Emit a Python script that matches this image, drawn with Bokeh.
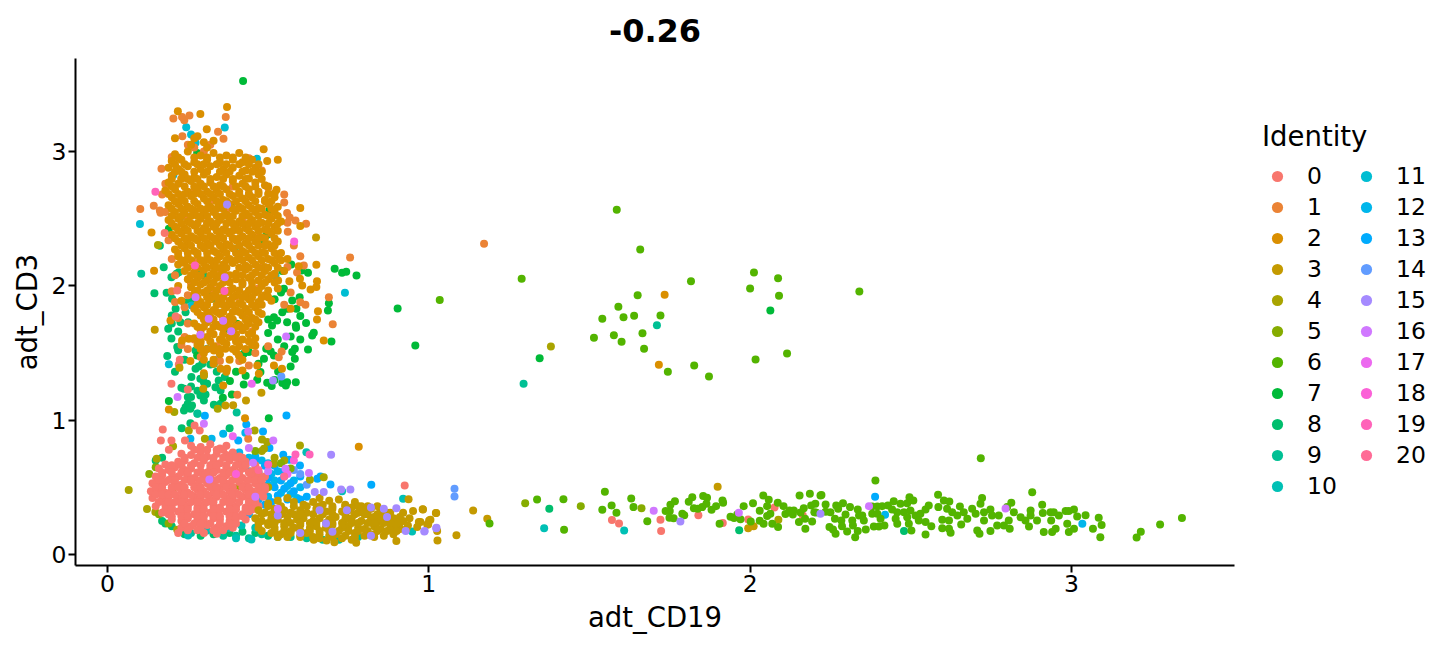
import math
from bokeh.plotting import figure
from bokeh.models import Legend, LegendItem, Range1d, FixedTicker
from bokeh.embed import file_html
from bokeh.resources import INLINE

TITLE = "-0.26"
X_LABEL = "adt_CD19"
Y_LABEL = "adt_CD3"
X_TICKS = [0, 1, 2, 3]
Y_TICKS = [0, 1, 2, 3]
IDENTITIES = [str(i) for i in range(21)]

s0 = [(1.57,.256),(1.592,.231),(1.721,.258),(1.723,.174),(1.839,.293),(1.915,.234),(1.994,.261),(2.076,.35),(2.164,.291),
(.172,.931),(.166,.849),(.199,.849),(.191,.78),(.271,.961),(.287,.924),(.241,.849),(.925,.514),(.199,1.271),(.25,1.229),(.225,1.45),(.222,1.415),(.217,1.966),(.212,1.772),(.178,2.393),
(.26,.81),(.29,.8),(.32,.82),(.35,.79),(.37,.81),
(.23,.75),(.26,.74),(.29,.76),(.31,.73),(.34,.75),(.37,.74),(.39,.76),(.41,.73),
(.22,.69),(.24,.7),(.27,.68),(.3,.7),(.33,.69),(.35,.68),(.38,.7),(.41,.68),(.43,.69),(.18,.67),
(.16,.64),(.19,.63),(.21,.65),(.24,.63),(.26,.64),(.29,.62),(.32,.64),(.34,.63),(.37,.65),(.39,.63),(.42,.64),(.45,.62),
(.15,.58),(.17,.59),(.2,.57),(.22,.58),(.25,.59),(.27,.57),(.3,.59),(.32,.58),(.35,.57),(.37,.59),(.4,.58),(.42,.57),(.45,.59),(.47,.57),(.49,.58),
(.14,.53),(.16,.52),(.18,.54),(.21,.53),(.23,.52),(.26,.54),(.28,.52),(.31,.53),(.33,.54),(.36,.52),(.38,.53),(.41,.54),(.43,.52),(.46,.53),(.48,.52),
(.135,.47),(.16,.48),(.18,.46),(.2,.48),(.23,.47),(.25,.46),(.28,.48),(.3,.47),(.33,.46),(.35,.48),(.38,.47),(.4,.46),(.43,.48),(.45,.47),(.47,.46),(.49,.48),
(.14,.42),(.17,.41),(.19,.43),(.22,.42),(.24,.41),(.27,.43),(.29,.42),(.32,.41),(.34,.43),(.37,.42),(.39,.41),(.42,.43),(.44,.42),(.46,.41),(.485,.43),
(.15,.36),(.18,.37),(.2,.35),(.23,.37),(.25,.36),(.28,.35),(.3,.37),(.33,.36),(.35,.35),(.38,.37),(.4,.36),(.43,.35),(.45,.37),(.47,.36),
(.17,.31),(.19,.3),(.22,.32),(.24,.31),(.27,.3),(.29,.32),(.32,.31),(.34,.3),(.37,.32),(.39,.31),(.42,.3),(.44,.32),
(.2,.26),(.23,.25),(.25,.27),(.28,.26),(.3,.25),(.33,.27),(.35,.26),(.38,.25),(.4,.27),(.43,.26),
(.23,.2),(.26,.21),(.29,.2),(.31,.22),(.34,.2),(.37,.21),(.39,.2),(.22,.16),(.3,.16),(.34,.155)]
s0_rows = {.78:[.27,.31,.34,.36],.72:[.24,.28,.3,.33,.36,.38,.4,.42],.665:[.2,.23,.26,.29,.32,.34,.37,.4,.43,.46],
.61:[.17,.2,.23,.25,.28,.31,.33,.36,.38,.41,.44,.47],.555:[.16,.19,.21,.24,.26,.29,.31,.34,.36,.39,.41,.44,.46,.48],
.5:[.15,.17,.2,.22,.24,.27,.29,.32,.34,.37,.39,.42,.44,.47,.49],.445:[.15,.17,.19,.21,.24,.26,.29,.31,.34,.36,.39,.41,.44,.46,.48],
.39:[.16,.19,.21,.23,.26,.28,.31,.33,.36,.38,.41,.44,.46],.335:[.18,.2,.23,.25,.28,.3,.33,.35,.38,.4,.43,.45],
.285:[.2,.23,.25,.28,.3,.33,.35,.38,.4,.42],.23:[.24,.27,.29,.32,.35,.38,.4],.18:[.25,.28,.33,.36]}
s1 = [(1.172,2.313),(.205,3.247),(.232,3.257),(.239,3.234),(.255,3.269),(.368,3.257),(.344,3.147),(.361,3.095),(.233,3.115),(.168,2.872),(.102,2.572),(.144,2.597),(.163,2.562),(.165,2.544),
(.559,2.542),(.567,2.51),(.585,2.487),(.618,2.463),(.561,2.403),(.755,2.211),(.701,1.715),(.689,1.916),(.611,2.152),(.6,1.879),(.616,1.859),(.542,1.512),(.533,1.469),(.404,1.189),(.44,1.407),(.438,.862),
(.27,3.03),(.25,3.05),(.3,3.0),(.32,3.05),(.2,2.96),(.44,2.95),(.48,2.86),(.18,2.76),(.5,2.73),(.17,2.68),(.55,2.68),(.55,2.62),(.18,2.55),(.56,2.47),(.19,2.34),(.2,2.2),(.58,2.3),(.6,2.22),(.56,2.14),(.59,2.1),(.21,2.08),(.2,1.96),(.21,1.88),(.57,1.95),(.55,1.86),(.24,1.84),(.22,1.76),
(.23,2.8),(.27,2.7),(.33,2.64),(.39,2.74),(.44,2.68),(.24,2.52),(.31,2.47),(.37,2.55),(.42,2.5),(.26,2.36),(.32,2.3),(.39,2.35),(.47,2.37),(.27,2.18),(.35,2.13),(.41,2.2),(.48,2.14),(.26,2.02),(.33,1.97),(.4,1.92),(.47,1.98),(.25,1.93),(.31,1.78),(.38,1.72),(.44,1.78),(.25,1.72),(.27,1.6),(.34,1.55),(.4,1.6),(.45,1.66),(.24,1.62),(.23,1.56),(.29,1.47),(.35,1.44),(.46,1.5),(.41,1.44),(.5,1.55),(.25,1.53)]
s2 = [(.372,3.331),(.219,3.301),(.289,3.279),(.309,3.167),(.21,3.1),(.28,3.115),(.486,3.018),(.53,2.939),(.497,2.929),(.6,2.579),(.137,2.398),(.526,2.716),(.6,2.445),(1.734,1.934),(1.716,1.412),(.191,1.08),(.782,.802),(.428,1.015),
(.145,2.112),(.673,1.594),(.655,1.812),(.652,1.75),(.65,2.157),(.652,2.035),(.65,1.991),(.632,1.973),(.595,2.147),(.599,2.053),(.606,2.003),(.566,2.035),(.531,2.04),(.57,1.829),(.518,1.407),(.543,1.383),(.471,1.345),(.46,1.556),(.36,1.259),(.352,1.383),(.372,1.383),(.409,1.482),(.466,1.407),(.258,1.44),(.289,1.569),(.232,1.594),(.253,1.606),(.331,1.519),(.367,1.531),(.196,1.742),
(.27,3.1),(.26,3.05),(.3,3.07),(.33,3.08),(.31,3.03),
(.21,2.98),(.25,3.0),(.29,2.97),(.33,2.99),(.37,2.97),(.41,2.99),
(.2,2.93),(.23,2.94),(.27,2.92),(.31,2.94),(.35,2.92),(.39,2.94),(.42,2.92),(.45,2.94),
(.19,2.88),(.22,2.87),(.25,2.89),(.29,2.87),(.32,2.89),(.36,2.87),(.39,2.88),(.43,2.86),(.46,2.88),
(.2,2.82),(.24,2.83),(.27,2.81),(.3,2.83),(.34,2.81),(.37,2.83),(.41,2.82),(.44,2.8),(.47,2.83),
(.19,2.77),(.22,2.76),(.26,2.78),(.29,2.76),(.32,2.77),(.35,2.75),(.39,2.78),(.42,2.76),(.46,2.77),(.49,2.75),
(.18,2.71),(.21,2.72),(.25,2.7),(.28,2.72),(.31,2.7),(.34,2.71),(.37,2.72),(.41,2.7),(.44,2.72),(.47,2.7),(.52,2.69),
(.2,2.66),(.23,2.65),(.26,2.67),(.3,2.65),(.33,2.66),(.36,2.64),(.39,2.67),(.42,2.65),(.45,2.66),(.49,2.64),(.52,2.66),
(.19,2.6),(.22,2.61),(.25,2.59),(.28,2.61),(.32,2.59),(.35,2.6),(.38,2.61),(.41,2.59),(.44,2.6),(.47,2.58),(.5,2.61),(.53,2.59),
(.21,2.55),(.24,2.54),(.27,2.56),(.3,2.54),(.33,2.55),(.37,2.53),(.4,2.56),(.43,2.54),(.46,2.55),(.49,2.53),(.52,2.55),
(.19,2.49),(.22,2.5),(.25,2.48),(.29,2.5),(.32,2.48),(.35,2.49),(.38,2.5),(.41,2.48),(.45,2.49),(.48,2.47),(.51,2.5),(.54,2.48),
(.21,2.44),(.24,2.43),(.27,2.45),(.3,2.43),(.33,2.44),(.36,2.42),(.4,2.45),(.43,2.43),(.46,2.44),(.49,2.42),(.52,2.44),
(.2,2.38),(.23,2.39),(.26,2.37),(.29,2.39),(.32,2.37),(.35,2.38),(.38,2.39),(.42,2.37),(.45,2.38),(.48,2.36),(.51,2.39),
(.22,2.33),(.25,2.32),(.28,2.34),(.31,2.32),(.34,2.33),(.37,2.31),(.4,2.34),(.43,2.32),(.46,2.33),(.5,2.31),(.53,2.33),
(.21,2.27),(.24,2.28),(.27,2.26),(.3,2.28),(.33,2.26),(.36,2.27),(.39,2.28),(.42,2.26),(.45,2.27),(.48,2.25),(.51,2.28),
(.22,2.22),(.25,2.21),(.28,2.23),(.31,2.21),(.35,2.22),(.38,2.2),(.41,2.23),(.44,2.21),(.47,2.22),(.5,2.2),(.53,2.22),(.56,2.2),
(.22,2.16),(.24,2.17),(.27,2.15),(.3,2.17),(.33,2.15),(.36,2.16),(.39,2.17),(.43,2.15),(.46,2.16),(.49,2.14),(.52,2.17),
(.24,2.11),(.27,2.1),(.3,2.12),(.33,2.1),(.36,2.11),(.4,2.09),(.43,2.12),(.46,2.1),(.49,2.11),(.52,2.09),(.55,2.11),
(.25,2.05),(.28,2.06),(.31,2.04),(.34,2.06),(.37,2.04),(.4,2.05),(.44,2.06),(.47,2.04),(.5,2.05),
(.22,2.0),(.26,1.99),(.29,2.01),(.32,1.99),(.35,2.0),(.39,1.98),(.42,2.01),(.45,1.99),(.48,2.0),(.53,1.98),
(.27,1.94),(.3,1.95),(.33,1.93),(.37,1.95),(.4,1.93),(.43,1.94),(.46,1.95),(.49,1.93),
(.23,1.89),(.29,1.88),(.32,1.9),(.35,1.88),(.38,1.89),(.41,1.87),(.44,1.9),(.47,1.88),(.51,1.89),
(.27,1.83),(.3,1.84),(.33,1.82),(.37,1.84),(.4,1.82),(.43,1.83),(.46,1.84),
(.29,1.78),(.32,1.77),(.35,1.79),(.38,1.77),(.42,1.78),(.45,1.76),(.48,1.79),
(.27,1.72),(.31,1.73),(.34,1.71),(.37,1.73),(.41,1.71),(.44,1.72),(.47,1.73),
(.29,1.67),(.32,1.66),(.36,1.68),(.39,1.66),(.42,1.67),(.45,1.65),
(.27,1.61),(.31,1.62),(.35,1.6),(.38,1.62),(.42,1.6),(.46,1.61),
(.28,1.56),(.33,1.55),(.37,1.57),(.41,1.55),(.45,1.56),(.3,1.5),(.35,1.49),(.4,1.51),(.33,1.42),(.37,1.36),(.42,1.37),(.3,1.35)]
s2_rows = {2.955:[.22,.27,.31,.35,.39,.43],2.905:[.21,.24,.28,.3,.34,.37,.41,.44,.47],2.85:[.21,.23,.27,.31,.35,.38,.42,.45,.48],
2.795:[.2,.23,.25,.28,.32,.36,.39,.43,.48],2.74:[.2,.24,.27,.3,.33,.36,.4,.43,.46,.5],2.685:[.19,.22,.24,.27,.29,.32,.35,.38,.41,.44,.47,.5],
2.63:[.21,.24,.27,.31,.34,.37,.4,.43,.46,.49,.51],2.575:[.2,.23,.26,.29,.31,.34,.36,.39,.42,.45,.48,.51],2.52:[.2,.23,.26,.28,.31,.34,.36,.39,.42,.44,.47,.5,.53],
2.465:[.2,.23,.26,.28,.31,.34,.37,.39,.42,.44,.47,.5,.53],2.41:[.22,.25,.28,.31,.34,.37,.39,.41,.44,.47,.5,.53],2.355:[.21,.24,.27,.3,.33,.36,.39,.41,.44,.47,.49,.52],
2.3:[.23,.26,.29,.32,.35,.38,.41,.44,.47,.49,.52],2.245:[.22,.25,.28,.31,.34,.37,.4,.43,.46,.49,.52,.54],2.19:[.23,.26,.29,.32,.34,.37,.4,.42,.45,.48,.51,.54],
2.135:[.25,.28,.31,.34,.37,.41,.44,.47,.5,.53],2.08:[.26,.29,.32,.35,.38,.42,.45,.48,.51],2.025:[.27,.3,.33,.36,.38,.42,.45,.49,.52],
1.965:[.28,.31,.34,.36,.38,.41,.44,.47,.5],1.915:[.28,.31,.34,.36,.39,.42,.45,.48,.5],1.86:[.28,.31,.34,.36,.39,.42,.45,.48],
1.805:[.28,.31,.34,.36,.39,.41,.44,.47],1.75:[.3,.33,.36,.39,.43,.46],1.695:[.28,.3,.33,.35,.38,.4,.43,.46],1.64:[.29,.33,.36,.4,.44],
1.585:[.29,.32,.36,.4,.44],1.53:[.29,.31,.35,.39,.43],1.45:[.3,.33,.38,.42]}
s3 = [(.982,.335),(1.022,.308),(1.138,.328),(1.182,.266),(1.001,.253),(.995,.224),(.974,.241),(1.026,.174),(1.027,.105),(1.086,.144),(1.899,.504),(1.994,.196),(2.011,.211),
(.147,1.673),(.479,1.204),(.298,1.234),(.3,1.333),(.224,1.39),(.391,1.112),(.367,1.11),(.431,1.147),(.649,2.361),
(.937,.412),(.981,.336),(1.023,.308),(.951,.323),(1.005,.259),(.998,.224),(.969,.241),(.964,.204),(.935,.216),(.899,.1),(.774,.087),(.706,.092),(.682,.105),(.642,.11),
(.5,.38),(.53,.4),(.56,.42),(.58,.39),(.61,.37),(.64,.39),(.66,.42),(.69,.4),(.72,.41),(.74,.37),(.77,.39),(.79,.36),(.82,.34),(.85,.33),(.88,.31),
(.47,.33),(.49,.31),(.52,.34),(.55,.33),(.57,.31),(.6,.33),(.62,.31),(.65,.34),(.68,.32),(.7,.34),(.73,.32),(.75,.33),(.78,.31),(.81,.3),(.83,.28),(.86,.29),(.89,.27),(.91,.28),
(.46,.27),(.48,.25),(.51,.27),(.53,.26),(.56,.28),(.59,.26),(.61,.27),(.64,.25),(.66,.27),(.69,.26),(.71,.28),(.74,.26),(.76,.27),(.79,.25),(.82,.26),(.84,.24),(.87,.25),(.9,.24),(.92,.25),
(.47,.2),(.5,.22),(.52,.2),(.55,.21),(.58,.2),(.6,.22),(.63,.2),(.65,.21),(.68,.2),(.7,.22),(.73,.2),(.75,.21),(.78,.2),(.8,.19),(.83,.21),(.85,.19),(.88,.2),(.91,.19),
(.51,.16),(.54,.15),(.57,.16),(.6,.14),(.62,.16),(.66,.15),(.69,.14),(.71,.15),(.74,.14),(.77,.16),(.8,.14),(.83,.15),(.86,.14),(.89,.15),(.56,.13),(.73,.12),(.76,.11),(.66,.12),
(.92,.31),(.94,.27),(.9,.22),(.93,.19),(.87,.31),(.85,.27),(.8,.32),(.76,.35),(.67,.37)]
s3_rows = {.36:[.5,.54,.58,.62,.66,.7,.74,.78,.81,.84],.3:[.48,.51,.54,.58,.6,.64,.67,.7,.74,.77,.8,.84,.87],
.235:[.47,.5,.52,.55,.57,.6,.63,.65,.68,.7,.73,.76,.78,.81,.83,.86,.88,.91],.175:[.48,.52,.55,.57,.6,.63,.66,.69,.72,.75,.78,.81,.84,.87,.9],.13:[.53,.6,.64,.7,.77,.83]}
s4 = [(1.38,1.549),(.157,2.304),(2.088,.258),(.208,1.06),(.343,1.085),(.066,.48),(.123,.338),(.153,.713),(.458,.924),(.481,.857),(.599,.812),(.497,.837),(.487,.787),(.409,.507),(.63,.556),(.673,.576),(.518,.676),(.204,.805),(.253,.924),(.303,.862),(.149,.316),(.217,.184),(.206,.452),(.48,.77),(.52,.72),(.55,.7),(.5,.5)]
s5 = [(1.3,.382),(1.473,.36),(1.662,.345),(.46,.77),(.54,.68),(.57,.64),(.15,.65),(.13,.6),(.16,.3),(.19,.23)]
s6 = [(1.585,2.567),(1.658,2.271),(1.289,2.053),(1.034,1.894),(1.816,2.035),(1.65,1.931),(1.59,1.844),(1.54,1.755),(1.606,1.767),(1.639,1.777),(1.721,1.78),(1.665,1.648),(1.576,1.633),(1.514,1.613),(1.6,1.584),(1.67,1.531),(1.744,1.36),(1.826,1.407),(1.872,1.325),(2.017,1.452),(2.115,1.497),(2.012,2.1),(2.087,2.057),(2.0,1.98),(2.09,1.926),(2.34,1.958),(2.718,.717),
(1.189,.231),(1.337,.41),(1.419,.412),(1.421,.184),(1.548,.467),(1.54,.333),(1.569,.365),(1.584,.31),(1.63,.417),(1.637,.353),(1.68,.248),(1.737,.323),(1.75,.323),(1.752,.37),(1.766,.397),(1.749,.273),(1.762,.27),(1.789,.303),(1.795,.293),(1.809,.392),(1.82,.427),(1.825,.345),(1.837,.34),(1.851,.353),(1.864,.378),(1.854,.435),(1.866,.422),(1.88,.333),(1.894,.36),(1.914,.402),(1.916,.385),(1.905,.229),(1.939,.281),(1.95,.271),(1.96,.298),(1.97,.263),(1.98,.36),(2.002,.246),(2.009,.382),(2.03,.325),(2.03,.251),(2.042,.229),(2.041,.44),(2.058,.407),(2.053,.36),(2.053,.286),(2.063,.303),(2.069,.229),(2.086,.385),(2.087,.204),(2.104,.36),(2.11,.301),(2.123,.328),(2.133,.298),(2.136,.328),(2.154,.44),(2.186,.452),(2.152,.241),(2.172,.191),(2.171,.266),(2.193,.246),(2.157,.313),(2.167,.345),(2.19,.365),(2.203,.378),(2.205,.313),(2.219,.44),
(2.39,.551),(2.222,.442),(2.2,.315),(2.235,.373),(2.235,.318),(2.25,.315),(2.268,.365),(2.289,.382),(2.274,.34),(2.311,.353),(2.297,.298),(2.264,.266),(2.284,.253),(2.286,.211),(2.247,.204),(2.258,.186),(2.266,.154),(2.302,.172),(2.32,.216),(2.335,.335),(2.339,.291),(2.318,.253),(2.335,.174),(2.327,.129),(2.36,.186),(2.349,.291),(2.354,.253),(2.38,.358),(2.396,.358),(2.38,.303),(2.396,.303),(2.411,.36),(2.385,.209),(2.401,.209),(2.418,.216),(2.406,.266),(2.447,.397),(2.429,.365),(2.442,.335),(2.468,.378),(2.489,.382),(2.496,.427),(2.508,.402),(2.458,.315),(2.479,.315),(2.499,.328),(2.453,.266),(2.458,.229),(2.489,.278),(2.494,.229),(2.502,.179),(2.515,.291),(2.53,.303),(2.546,.335),(2.556,.365),(2.525,.253),(2.546,.241),(2.564,.211),(2.546,.149),(2.585,.445),(2.586,.353),(2.603,.402),(2.62,.395),(2.613,.34),(2.629,.315),(2.653,.358),(2.645,.291),(2.598,.258),(2.619,.253),(2.598,.196),(2.619,.191),(2.624,.162),(2.665,.315),(2.657,.224),(2.691,.34),(2.676,.266),(2.702,.303),(2.707,.179),(2.714,.154),(2.717,.378),(2.722,.42),(2.728,.315),(2.748,.335),(2.753,.291),(2.728,.253),(2.774,.291),(2.748,.174),(2.769,.216),(2.79,.216),(2.808,.191),(2.813,.385),(2.8,.353),(2.805,.253),(2.821,.315),(2.842,.278),(2.857,.253),(2.873,.328),(2.878,.464),(2.873,.291),(2.893,.253),(2.868,.209),(2.909,.37),(2.911,.308),(2.914,.167),(2.935,.315),(2.945,.315),(2.937,.253),(2.94,.167),(2.951,.191),(2.961,.291),(2.982,.323),(2.992,.323),(2.987,.229),(2.992,.167),(3.008,.335),(3.008,.191),(3.018,.283),(3.044,.293),(3.085,.273),(3.094,.219),(3.067,.191),(3.09,.129),(3.203,.127),(3.216,.169),(3.276,.224),(3.344,.271)]
s7 = [(.422,3.525),(.385,2.6),(.504,2.564),(.191,2.425),(.494,2.376),(.505,2.388),(.483,2.334),(.279,2.989),(.903,1.832),(.958,1.556),(1.345,1.462),(2.063,1.817),
(.707,2.127),(.73,2.097),(.743,2.105),(.775,2.077),(.689,1.871),(.686,1.817),(.697,1.586),(.624,1.527),(.637,1.631),(.642,1.651),(.618,1.723),(.6,1.775),(.586,1.705),(.587,1.688),(.57,1.623),(.583,1.532),(.575,1.507),(.583,1.457),(.586,1.283),(.559,1.283),(.544,1.276),(.555,1.259),(.511,1.254),(.497,1.278),(.466,1.301),(.424,1.266),(.381,1.291),(.502,1.015),(.476,1.358),(.531,1.363),(.487,1.457),(.424,1.494),(.44,1.507),(.372,1.68),(.403,1.718),(.572,2.159),(.624,2.097),(.604,2.115),(.544,2.11),(.549,1.978),(.575,1.891),(.598,1.916),(.588,1.829),(.518,1.767),(.528,1.742),(.544,1.804),(.559,1.73),(.512,1.705),(.494,1.532),(.508,1.512),(.518,1.482),(.279,1.482),(.276,1.909),(.359,1.167),(.387,1.192),(.191,1.142),(.53,1.6),(.5,1.65),(.54,1.95),(.52,1.9),(.56,1.83),
(.5,1.75),(.55,1.55),(.6,1.6),(.47,1.42),(.52,1.3),(.57,1.4),(.43,1.33),(.4,1.36)]
s8 = [(.234,2.52),(.163,2.299),(.146,1.946),(.184,1.948),(.175,2.139),(.199,2.065),(.215,2.09),(.222,2.102),(.201,1.904),(.212,1.829),(.238,1.879),(.243,1.804),(.258,1.896),(.315,1.958),(.326,1.904),(.189,1.68),(.199,1.608),(.217,1.544),(.251,1.73),(.227,1.73),(.279,2.09),(.3,2.077),(.186,1.477),(.274,1.519),(.274,1.383),(.284,1.4),(.295,1.42),(.32,1.415),(.331,1.42),(.289,1.308),(.3,1.283),(.31,1.271),(.336,1.246),(.346,1.296),(.365,1.321),(.23,1.241),(.238,1.234),(.261,1.321),(.25,1.172),(.26,1.172),(.289,1.184),(.305,1.192),(.3,1.147),(.331,1.115),(.352,1.122),(.25,1.122),(.243,1.097),(.238,1.072),(.263,1.11),(.258,1.085),(.352,1.221),(1.375,.34),(1.966,.181),(2.479,.174),(.231,.939),(.38,.939),(.28,1.048),(.258,.978),
(.17,.72),(.15,.7),(.17,.25),(.2,.21),(.24,.15),(.29,.14),(.33,.15),(.38,.16),(.42,.17),(.46,.16),(.5,.14),(.18,.23),
(.2,1.78),(.22,1.66),(.24,1.45),(.21,1.36),(.26,1.25),(.28,1.22),(.34,1.36),(.22,1.52),(.2,1.72),(.3,1.33)]
s9 = [(.396,2.276),(.105,2.09),(1.295,1.271),(1.71,1.707),(.402,1.058),(.28,1.05),(.26,.16),(.36,.14),(.4,.14),(.44,.12),(.48,.15),(.53,.13),(.57,.13),(.62,.12),(.67,.11),(.72,.11),(.78,.13)]
s10 = [(1.359,.196),(1.608,.179),(.619,.762),(.92,.415),(.948,.172),(.448,.112),(.251,.142),(.378,.197),(.417,.216),(.31,.179),(.4,.12),(.46,.2),(.73,.47)]
s11 = [(.245,3.182),(.26,3.128),(.365,3.18),(.465,2.946),(.101,2.46),(.205,2.825),(.274,3.066),(.739,1.948),(.191,1.417),(.262,1.854),(.523,2.077),(.31,1.532)]
s12 = [(2.42,.296),(3.034,.229),(.36,.899),(.324,.862),(.429,.906),(.258,.862),(.41,.76),(.44,.72),(.46,.73),(.48,.7),(.43,.68),(.44,.62),(.5,.68),(.47,.61),(.51,.6),(.52,.55),(.5,.52),(.55,.58),(.53,.62),(.56,.51),(.58,.55),(.57,.45),(.6,.5),(.54,.46),(.59,.42),(.5,.43),(.46,.39)]
s13 = [(.303,1.033),(.557,1.035),(2.389,.43),(.432,.968),(.484,.916),(.407,.849),(.504,.792),(.547,.743),(.565,.705),(.599,.663),(.821,.519),(.694,.522),(.653,.564),(.663,.581),(.46,.7),(.49,.66),(.52,.66),(.55,.62),(.5,.57),(.54,.55),(.57,.53),(.6,.58),(.52,.5),(.55,.49),(.58,.47),(.62,.43),(.6,.41),(.53,.44),(.56,.41),(.47,.41),(.49,.37),(.51,.39),(.44,.3)]
s14 = [(1.08,.489),(1.08,.432),(.541,1.326),(.338,1.45),(.58,.63),(.6,.6),(.62,.52)]
s15 = [(.986,.172),(1.023,.196),(1.783,.246),(.372,2.606),(.515,1.296),(2.219,.303),(.696,.743),(.727,.484),(.756,.484),(.645,.465),(.673,.465),(.928,.174),(.987,.174),(1.024,.199),(.899,.345),(.66,.33),(.68,.23),(.745,.33),(.7,.17),(.82,.35),(.86,.34),(.87,.28),(.82,.14),(.6,.16),(.53,.29)]
s16 = [(1.7,.325),(1.965,.31),(2.37,.36),(2.795,.343),(.365,2.065),(.274,1.916),(.36,1.74),(.385,1.663),(.556,1.623),(.289,1.636),(.218,1.172),(.315,1.755),(.3,.973),(.438,.916),(.516,.849),(.44,.792),(.453,.683),(.554,.638),(.627,.606),(.317,.559),(.46,.43),(.53,.34),(.5,.62)]
s17 = [(.449,1.271),(.39,.88),(.56,.6)]
s18 = [(.581,2.331),(.4,.6),(.58,.7)]
s19 = [(.149,2.701),(.364,1.961),(.272,2.152),(.585,.745),(.629,.745),(.5,.67)]
s20 = [(.55,.58),(.47,.63)]

s0 += [(x, y) for y, xs in s0_rows.items() for x in xs]
s2 += [(x, y) for y, xs in s2_rows.items() for x in xs]
s3 += [(x, y) for y, xs in s3_rows.items() for x in xs]
SERIES = [s0, s1, s2, s3, s4, s5, s6, s7, s8, s9, s10, s11, s12, s13, s14, s15, s16, s17, s18, s19, s20]


def hcl_hex(h, c=100.0, l=65.0):
    hr = math.radians(h)
    U, V = c * math.cos(hr), c * math.sin(hr)
    Y = ((l + 16) / 116) ** 3
    u = U / (13 * l) + 0.1978398
    v = V / (13 * l) + 0.4683363
    X = 9 * Y * u / (4 * v)
    Z = -X / 3 - 5 * Y + 3 * Y / v
    rgb = (3.240479 * X - 1.537150 * Y - 0.498535 * Z,
           -0.969256 * X + 1.875992 * Y + 0.041556 * Z,
           0.055648 * X - 0.204043 * Y + 1.057311 * Z)
    out = []
    for ch in rgb:
        ch = max(0.0, min(1.0, ch))
        ch = 12.92 * ch if ch <= 0.0031308 else 1.055 * ch ** (1 / 2.4) - 0.055
        out.append(round(ch * 255))
    return "#%02X%02X%02X" % tuple(out)


COLORS = [hcl_hex(15 + 360 * i / 21) for i in range(21)]
FONT = "DejaVu Sans"

p = figure(frame_width=1159, frame_height=507, output_backend="svg", toolbar_location=None,
           x_range=Range1d(-0.0996, 3.5076), y_range=Range1d(-0.082, 3.693),
           min_border_left=75, min_border_right=0, min_border_top=58, min_border_bottom=75,
           background_fill_color="white", border_fill_color="white", outline_line_color=None)
p.grid.visible = False
p.title.text = TITLE
p.title.align = "center"
p.title.vertical_align = "top"
p.title.text_font = FONT
p.title.text_font_size = "32px"
p.title.text_font_style = "bold"
p.title.text_color = "black"
p.title.standoff = 29

for ax, label, ticks in ((p.xaxis[0], X_LABEL, X_TICKS), (p.yaxis[0], Y_LABEL, Y_TICKS)):
    ax.axis_label = label
    ax.ticker = FixedTicker(ticks=ticks)
    ax.axis_label_text_font = FONT
    ax.axis_label_text_font_size = "27.5px"
    ax.axis_label_text_font_style = "normal"
    ax.axis_label_text_color = "black"
    ax.major_label_text_font = FONT
    ax.major_label_text_font_size = "23.5px"
    ax.major_label_text_color = "black"
    ax.major_label_standoff = 2
    ax.axis_line_width = 2
    ax.axis_line_color = "black"
    ax.major_tick_line_width = 2
    ax.major_tick_line_color = "black"
    ax.major_tick_in = 0
    ax.major_tick_out = 7
    ax.minor_tick_line_color = None
    ax.axis_label_standoff = 6

DRAW_ORDER = [8, 9, 10, 7, 12, 13, 11, 14, 4, 5, 1, 2, 0, 3, 6, 15, 16, 17, 18, 19, 20]
renderers = {}
for i in DRAW_ORDER:
    pts = SERIES[i]
    renderers[i] = p.scatter([a for a, _ in pts], [b for _, b in pts], size=8, marker="circle",
                             fill_color=COLORS[i], line_color=None)

legend = Legend(items=[LegendItem(label=IDENTITIES[i], renderers=[renderers[i]]) for i in range(21)],
                location=(28, 65), orientation="vertical", nrows=11, title="Identity",
                title_text_font=FONT, title_text_font_size="27.5px", title_text_font_style="normal",
                title_text_color="black", title_standoff=10, label_text_font=FONT,
                label_text_font_size="23.5px", label_text_color="black", glyph_width=30,
                glyph_height=28, label_height=28, label_width=41, label_standoff=15, spacing=3,
                padding=0, margin=0, border_line_color=None, background_fill_alpha=0)
p.add_layout(legend, "right")

open("out.html", "w").write(file_html(p, INLINE))
